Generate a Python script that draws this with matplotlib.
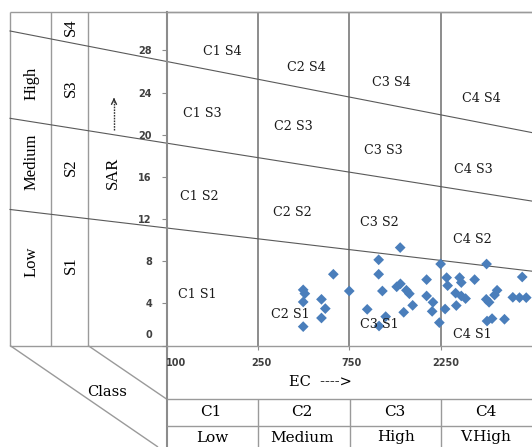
import numpy as np
import matplotlib
matplotlib.use("Agg")
import matplotlib.pyplot as plt
from matplotlib.transforms import ScaledTranslation

# ---------------- data ----------------
EC_BREAKS = [100, 250, 750, 2250, 5000]          # class boundaries (µS/cm)
EC_TICKS = [100, 250, 750, 2250]
SAR_TICKS = [0, 4, 8, 12, 16, 20, 24, 28]

# sample points (EC, SAR)
ec = [498, 507, 498, 498, 598, 619, 598, 663, 750,
      1586, 1233, 1233, 1294, 1045, 1348, 1239, 1529, 1590, 1688, 1737,
      1791, 1644, 2020, 2020, 2124, 2111, 2229, 2250,
      3633, 2431, 2822, 3273, 4706, 2461, 2872, 2701, 2872, 3001, 2385,
      2722, 3623, 3708, 3949, 3873, 4423, 4624, 4827, 3647, 3798, 4172]
sar = [5.28, 4.92, 4.13, 1.79, 4.38, 3.50, 2.61, 6.76, 5.17,
       9.29, 8.13, 6.76, 5.17, 3.43, 2.74, 1.85, 5.57, 5.85, 5.24, 4.91,
       3.81, 3.15, 6.25, 4.70, 4.10, 3.24, 2.17, 7.73,
       7.73, 6.44, 6.44, 6.25, 6.50, 5.68, 5.97, 4.97, 4.70, 4.45, 3.46,
       3.79, 4.38, 4.10, 5.24, 4.79, 4.57, 4.54, 4.54, 2.32, 2.55, 2.49]

# sodium hazard boundary lines: SAR at EC=100 and at right edge
BOUND_LEFT = [11.15, 19.2, 26.95]
BOUND_RIGHT = [7.05, 13.7, 20.2]

ZONE_LABELS = ["C1 S4", "C2 S4", "C3 S4", "C4 S4",
               "C1 S3", "C2 S3", "C3 S3", "C4 S3",
               "C1 S2", "C2 S2", "C3 S2", "C4 S2",
               "C1 S1", "C2 S1", "C3 S1", "C4 S1"]
ZONE_POS = [(0.61, 27.9), (1.53, 26.4), (2.46, 24.97), (3.45, 23.45),
            (0.39, 22.0), (1.39, 20.8), (2.37, 18.5), (3.36, 16.7),
            (0.36, 14.15), (1.38, 12.6), (2.33, 11.7), (3.35, 10.1),
            (0.34, 4.85), (1.35, 2.95), (2.33, 2.0), (3.35, 1.05)]

SAL_CLASSES = ["C1", "C2", "C3", "C4"]
SAL_NAMES = ["Low", "Medium", "High", "V.High"]
SOD_CLASSES = ["S1", "S2", "S3", "S4"]
SOD_NAMES = ["Low", "Medium", "High"]


def to_pos(v):
    return np.interp(v, EC_BREAKS, np.arange(len(EC_BREAKS)))


# ---------------- figure ----------------
W, H = 532, 447
fig = plt.figure(figsize=(W / 100, H / 100), dpi=100)
fig.patch.set_facecolor("white")

bg = fig.add_axes([0, 0, 1, 1])
bg.set_xlim(0, W)
bg.set_ylim(H, 0)
bg.axis("off")

X0, X1, Y0, Y1 = 166.5, 532, 12, 345.5
ax = fig.add_axes([X0 / W, (H - Y1) / H, (X1 - X0) / W, (Y1 - Y0) / H])
ax.set_facecolor("none")
ax.set_xlim(0, 4)
ax.set_ylim(0, (Y1 - Y0) / 10.54)

grey = "#8c8c8c"
lgrey = "#9a9a9a"
dark = "#5a5a5a"

# ---- left / bottom table lines (layout) ----
L = dict(color=lgrey, lw=1.0, solid_capstyle="butt")
bg.plot([10, W], [12, 12], **L)
for x in (10, 51, 88):
    bg.plot([x, x], [12, 345.5], **L)
bg.plot([10, 166.5], [345.5, 345.5], **L)
bg.plot([10, 158], [345.5, 447], **L)
bg.plot([88, 166.5], [345.5, 399], **L)
bg.plot([166.5, 166.5], [345.5, 447], color=grey, lw=1.5)
bg.plot([166.5, W], [399, 399], **L)
bg.plot([166.5, W], [426, 426], **L)
for x in (258, 349.5, 441):
    bg.plot([x, x], [399, 447], **L)

# ---- plot area ----
ax.spines["right"].set_visible(False)
ax.spines["left"].set_color(grey)
ax.spines["left"].set_linewidth(1.5)
ax.spines["bottom"].set_color(lgrey)
ax.spines["bottom"].set_linewidth(1.0)
ax.spines["top"].set_color(lgrey)
ax.spines["top"].set_linewidth(1.0)
for b in range(1, 4):
    ax.axvline(b, color=grey, lw=1.4, zorder=1)

xl = (10 - X0) / 91.4
for yl, yr in zip(BOUND_LEFT, BOUND_RIGHT):
    slope = (yr - yl) / 4.0
    ax.plot([xl, 4], [yl + slope * xl, yr], color=dark, lw=0.8,
            clip_on=False, zorder=2)

ax.scatter(to_pos(ec), sar, marker="D", s=30, color="#4A7EBB",
           edgecolors="none", zorder=3, clip_on=False)

for lab, (px, py) in zip(ZONE_LABELS, ZONE_POS):
    ax.text(px, py, lab, ha="center", va="center", fontsize=9.2,
            family="DejaVu Serif", color="#1a1a1a", zorder=4)

# ticks
ax.set_yticks(SAR_TICKS)
ax.set_yticklabels([str(t) for t in SAR_TICKS])
ax.tick_params(axis="y", direction="out", length=3.5, width=0.8, color=grey,
               pad=7, labelsize=7, labelcolor="#404040")
for lbl in ax.get_yticklabels():
    lbl.set_fontweight("bold")
ylab0 = ax.get_yticklabels()[0]
ylab0.set_transform(ylab0.get_transform() +
                    ScaledTranslation(0, 8 / 72, fig.dpi_scale_trans))

ax.set_xticks(range(len(EC_TICKS)))
ax.set_xticklabels([str(t) for t in EC_TICKS])
ax.tick_params(axis="x", direction="out", length=3, width=0.8, color=grey,
               pad=6, labelsize=7, labelcolor="#404040")
xlabs = ax.get_xticklabels()
for i, lbl in enumerate(xlabs):
    lbl.set_fontweight("bold")
    dx = [10, 3, 2, 5][i]
    lbl.set_transform(lbl.get_transform() +
                      ScaledTranslation(dx / 100, 0, fig.dpi_scale_trans))

# ---- texts in tables ----
ser = "Liberation Serif"
for lab, y in zip(SOD_NAMES, [262, 162, 83]):
    bg.text(32, y, lab, rotation=90, ha="center", va="center",
            fontsize=12, family=ser)
for lab, y in zip(SOD_CLASSES, [265, 167, 88, 27]):
    bg.text(71, y, lab, rotation=90, ha="center", va="center",
            fontsize=12, family=ser)
bg.text(113, 173, "SAR", rotation=90, ha="center", va="center",
        fontsize=12, family=ser)
bg.plot([114, 114], [130, 101], color="#333333", lw=1.0, ls=(0, (1.2, 0.8)))
bg.annotate("", xy=(114, 95), xytext=(114, 103),
            arrowprops=dict(arrowstyle="->", lw=1.0, color="#333333",
                            mutation_scale=9))

bg.text(107, 392, "Class", ha="center", va="center", fontsize=10.5,
        family="DejaVu Serif")
bg.text(320, 382, "EC  ---->", ha="center", va="center", fontsize=10.5,
        family="DejaVu Serif")
for lab, x in zip(SAL_CLASSES, [211, 302, 395, 486]):
    bg.text(x, 412, lab, ha="center", va="center", fontsize=11,
            family="DejaVu Serif")
for lab, x in zip(SAL_NAMES, [212, 302, 396, 486]):
    bg.text(x, 437.5, lab, ha="center", va="center", fontsize=11,
            family="DejaVu Serif")

fig.savefig("out.png", dpi=100, facecolor="white")
